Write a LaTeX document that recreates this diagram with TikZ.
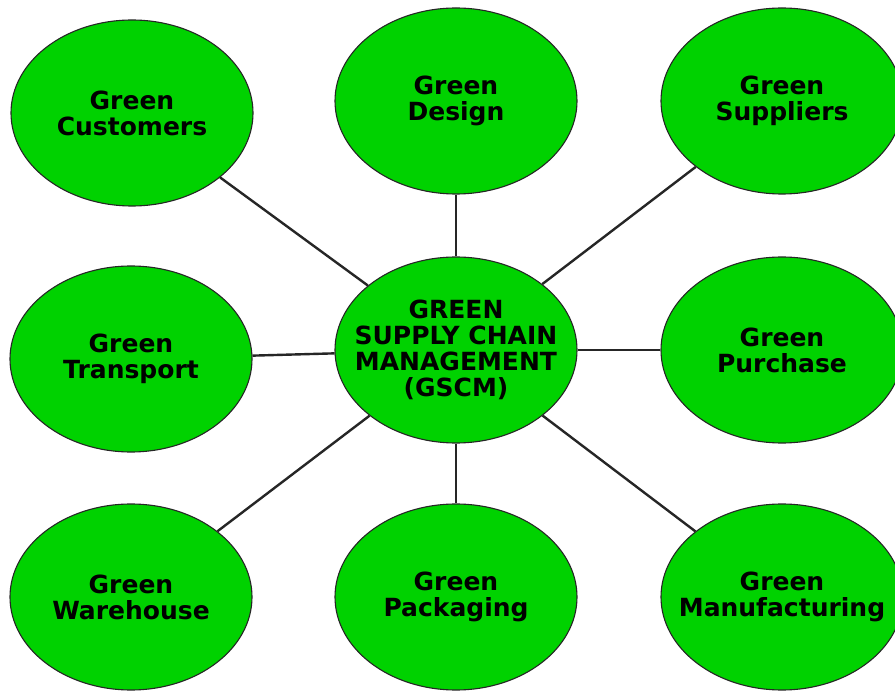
\documentclass[tikz,border=0pt]{standalone}
\usepackage{fontspec}
\setmainfont{DejaVu Sans}
\usetikzlibrary{shapes.geometric}
\definecolor{leaf}{RGB}{0,210,0}
\begin{document}
\begin{tikzpicture}[x=1pt,y=-1pt,
  topic/.style={ellipse, draw=black!85, line width=1.1pt, fill=leaf,
    minimum width=242pt, minimum height=186pt, inner sep=0pt},
  caption/.style={align=center, inner sep=0pt,
    font=\fontsize{25}{26}\selectfont\bfseries},
  link/.style={line width=2.4pt, draw=black!85}]
\useasboundingbox (0,0) rectangle (895,692);
\fill[white] (0,0) rectangle (895,692);
% central concept
\node[topic, label={[caption]center:GREEN\\SUPPLY CHAIN\\MANAGEMENT\\(GSCM)}] (gscm) at (456,350) {};
% surrounding practices
\node[topic, label={[caption]center:Green\\Customers}]     (cust)  at (132,113) {};
\node[topic, label={[caption]center:Green\\Design}]        (des)   at (456,101) {};
\node[topic, label={[caption]center:Green\\Suppliers}]     (sup)   at (782,101) {};
\node[topic, label={[caption]center:Green\\Transport}]     (trans) at (131,359) {};
\node[topic, label={[caption]center:Green\\Purchase}]      (pur)   at (782,350) {};
\node[topic, label={[caption]center:Green\\Warehouse}]     (ware)  at (131,597) {};
\node[topic, label={[caption]center:Green\\Packaging}]     (pack)  at (456,597) {};
\node[topic, label={[caption]center:Green\\Manufacturing}] (man)   at (782,597) {};
% spokes
\foreach \n in {cust,des,sup,trans,pur,ware,pack,man}
  \draw[link] (gscm) -- (\n);
\end{tikzpicture}
\end{document}
